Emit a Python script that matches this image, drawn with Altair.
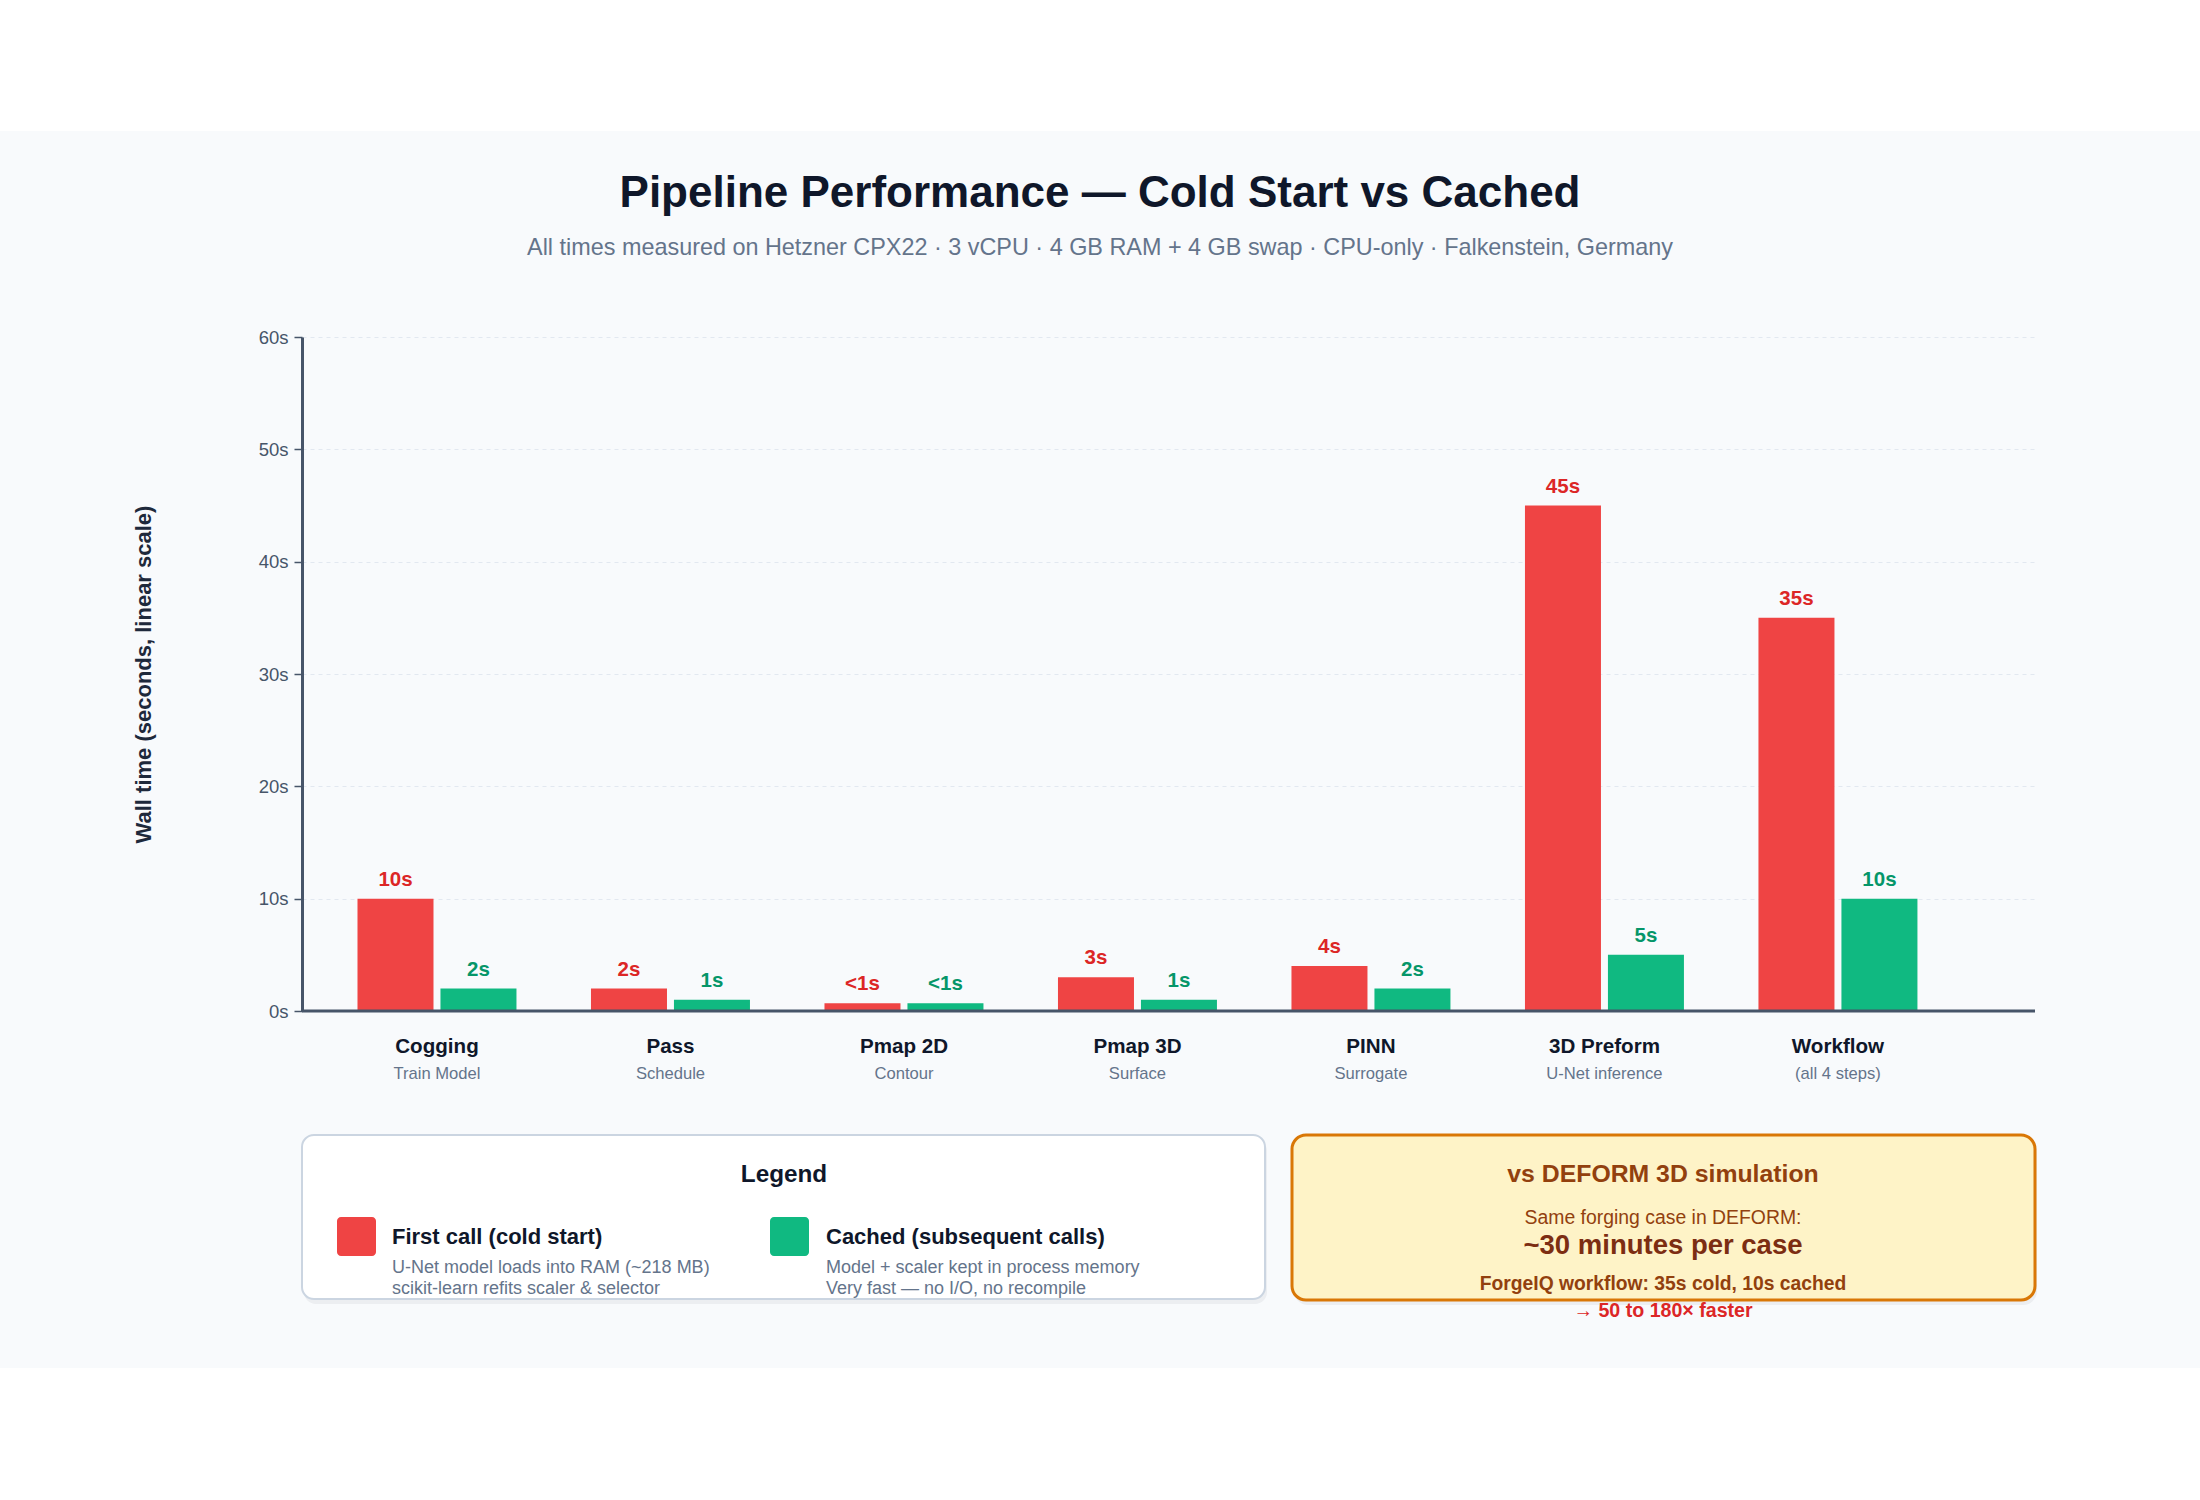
import altair as alt
import pandas as pd

# ---------------------------------------------------------------- data
categories = ["Cogging", "Pass", "Pmap 2D", "Pmap 3D", "PINN", "3D Preform", "Workflow"]
subtitles = ["Train Model", "Schedule", "Contour", "Surface", "Surrogate",
             "U-Net inference", "(all 4 steps)"]
cold_seconds = [10, 2, 0.7, 3, 4, 45, 35]
cached_seconds = [2, 1, 0.7, 1, 2, 5, 10]
y_ticks = [0, 10, 20, 30, 40, 50, 60]
series_keys = ["cold", "cached"]

TITLE = "Pipeline Performance \u2014 Cold Start vs Cached"
SUBTITLE = ("All times measured on Hetzner CPX22 \u00b7 3 vCPU \u00b7 4 GB RAM + 4 GB swap "
            "\u00b7 CPU-only \u00b7 Falkenstein, Germany")


def fmt_seconds(v):
    return "<1s" if v < 1 else f"{v:g}s"


rows = []
for cat, cold, cached in zip(categories, cold_seconds, cached_seconds):
    rows.append({"category": cat, "series": "cold", "seconds": cold, "label": fmt_seconds(cold)})
    rows.append({"category": cat, "series": "cached", "seconds": cached, "label": fmt_seconds(cached)})
bars_df = pd.DataFrame(rows)
cats_df = pd.DataFrame({"category": categories, "sub": subtitles})

# ---------------------------------------------------------------- styling
FONT = "Liberation Sans"
COLD, CACHED = "#ef4444", "#10b981"
COLD_TEXT, CACHED_TEXT = "#dc2626", "#059669"
INK, MUTED, AXIS = "#0f172a", "#64748b", "#475569"
PAGE_BG = "#f8fafc"

W, H = 1733, 674            # plot area
LEFT, TOP = 302, 337        # plot origin on the page
PAGE_W, PAGE_H = 2200, 1500


def X(px):
    return alt.value(px - LEFT)


def Y(py):
    return alt.value(py - TOP)


def one_row(text=""):
    return pd.DataFrame({"t": [text]})


def text_at(text, x, y, size, color, weight="normal", align="center"):
    return alt.Chart(one_row(text)).mark_text(
        align=align, baseline="middle", fontSize=size, fontWeight=weight,
        color=color, font=FONT
    ).encode(text="t:N", x=X(x), y=Y(y))


def rect_at(x0, y0, x1, y1, **style):
    return alt.Chart(one_row()).mark_rect(**style).encode(
        x=X(x0), x2=X(x1), y=Y(y0), y2=Y(y1)
    )


x_enc = alt.X("category:N", sort=categories, axis=None,
              scale=alt.Scale(paddingInner=0, paddingOuter=0.211, align=0.185))
x_off = alt.XOffset("series:N", sort=series_keys,
                    scale=alt.Scale(domain=series_keys, paddingInner=0.084, paddingOuter=0.449))
y_enc = alt.Y(
    "seconds:Q",
    scale=alt.Scale(domain=[0, 60], nice=False),
    axis=alt.Axis(
        values=y_ticks, labelExpr="datum.value + 's'",
        title="Wall time (seconds, linear scale)",
        titleFontSize=22, titleFontWeight="bold", titleColor="#1e293b", titleFont=FONT,
        titleAngle=-90, titleAlign="center", titleBaseline="middle",
        titleX=143 - LEFT, titleY=H / 2,
        labelFontSize=18.5, labelColor=AXIS, labelFont=FONT, labelPadding=6,
        domain=True, domainColor=AXIS, domainWidth=3,
        ticks=True, tickSize=8, tickColor=AXIS, tickWidth=1.5,
        grid=True, gridColor="#e2e8f0", gridDash=[4, 4], gridWidth=1,
    ),
)

# page band: white strips above and below the light panel
page_top = rect_at(0, 0, PAGE_W, 131, color="white")
page_bottom = rect_at(0, 1368, PAGE_W, PAGE_H, color="white")

bars = alt.Chart(bars_df).mark_bar().encode(
    x=x_enc, xOffset=x_off, y=y_enc,
    color=alt.Color("series:N", legend=None,
                    scale=alt.Scale(domain=series_keys, range=[COLD, CACHED])),
)

value_labels = alt.Chart(bars_df).mark_text(
    baseline="alphabetic", dy=-13, fontSize=20.5, fontWeight="bold", font=FONT
).encode(
    x=x_enc, xOffset=x_off, y=alt.Y("seconds:Q"), text="label:N",
    color=alt.Color("series:N", legend=None,
                    scale=alt.Scale(domain=series_keys, range=[COLD_TEXT, CACHED_TEXT])),
)

baseline = alt.Chart(one_row()).mark_rule(color=AXIS, strokeWidth=3).encode(
    x=alt.value(0), x2=alt.value(W), y=alt.value(H)
)

cat_names = alt.Chart(cats_df).mark_text(
    baseline="middle", fontSize=20.6, fontWeight="bold", color=INK, font=FONT
).encode(x=x_enc, text="category:N", y=Y(1047))

cat_subs = alt.Chart(cats_df).mark_text(
    baseline="middle", fontSize=16.6, color=MUTED, font=FONT
).encode(x=x_enc, text="sub:N", y=Y(1074))

title = text_at(TITLE, 1100, 194, 44, INK, "bold")
subtitle = text_at(SUBTITLE, 1100, 248, 23.4, MUTED)

# legend panel
legend_layers = [
    rect_at(304, 1139, 1267, 1304, color="#0f172a", opacity=0.05, cornerRadius=12),
    rect_at(302, 1135, 1265, 1299, fill="white", stroke="#cbd5e1", strokeWidth=2, cornerRadius=12),
    text_at("Legend", 784, 1175, 24.3, INK, "bold"),
    rect_at(337, 1217, 376, 1256, color=COLD, cornerRadius=4),
    text_at("First call (cold start)", 392, 1237, 22, INK, "bold", "left"),
    text_at("U-Net model loads into RAM (~218 MB)", 392, 1268, 18, MUTED, align="left"),
    text_at("scikit-learn refits scaler & selector", 392, 1289, 18, MUTED, align="left"),
    rect_at(770, 1217, 809, 1256, color=CACHED, cornerRadius=4),
    text_at("Cached (subsequent calls)", 826, 1237, 22, INK, "bold", "left"),
    text_at("Model + scaler kept in process memory", 826, 1268, 18, MUTED, align="left"),
    text_at("Very fast \u2014 no I/O, no recompile", 826, 1289, 18, MUTED, align="left"),
]

# comparison panel
BROWN, DARK_BROWN = "#92400e", "#7c2d12"
compare_layers = [
    rect_at(1294, 1139, 2037, 1305, color="#0f172a", opacity=0.05, cornerRadius=14),
    rect_at(1292, 1135, 2035, 1300, fill="#fef3c7", stroke="#d97706", strokeWidth=3, cornerRadius=14),
    text_at("vs DEFORM 3D simulation", 1663, 1175, 24.8, BROWN, "bold"),
    text_at("Same forging case in DEFORM:", 1663, 1218, 19.4, BROWN),
    text_at("~30 minutes per case", 1663, 1246, 27.5, DARK_BROWN, "bold"),
    text_at("ForgeIQ workflow: 35s cold, 10s cached", 1663, 1284, 19.3, BROWN, "bold"),
    text_at("\u2192 50 to 180\u00d7 faster", 1663, 1311, 19.6, COLD_TEXT, "bold"),
]

chart = alt.layer(
    page_top, page_bottom,
    bars, baseline, value_labels, cat_names, cat_subs,
    title, subtitle,
    *legend_layers, *compare_layers,
).resolve_scale(
    color="independent"
).properties(
    width=W, height=H,
    background=PAGE_BG,
    padding={"left": LEFT, "top": TOP, "right": PAGE_W - LEFT - W, "bottom": PAGE_H - TOP - H},
    autosize=alt.AutoSizeParams(type="none"),
).configure_view(
    stroke=None
).configure_text(
    font=FONT
)

chart.save("out.html", embed_options={"renderer": "svg", "actions": False})
